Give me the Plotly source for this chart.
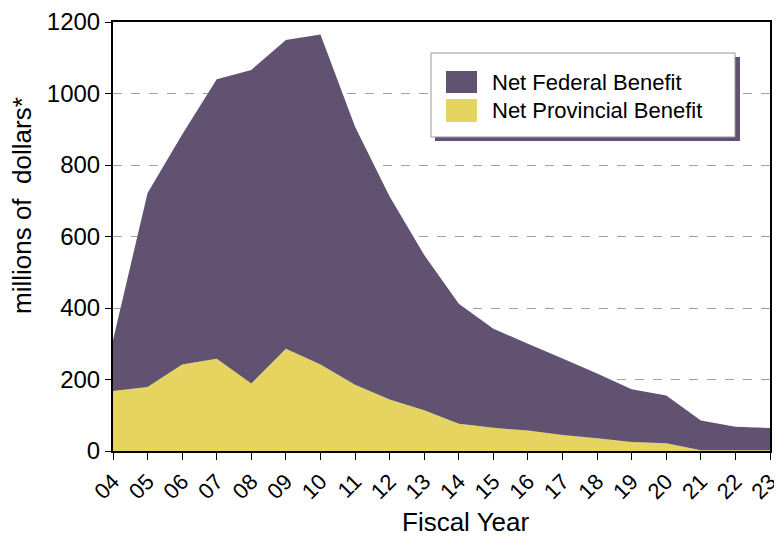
import plotly.graph_objects as go

years = ["04", "05", "06", "07", "08", "09", "10", "11", "12", "13",
         "14", "15", "16", "17", "18", "19", "20", "21", "22", "23"]
provincial = [168, 179, 242, 258, 189, 286, 242, 185, 144, 114,
              76, 65, 57, 45, 36, 25, 22, 2, 2, 2]
federal = [142, 543, 643, 782, 877, 864, 923, 722, 568, 434,
           336, 277, 243, 214, 181, 148, 133, 83, 66, 62]
y_ticks = [0, 200, 400, 600, 800, 1000, 1200]
legend_names = ["Net Federal Benefit", "Net Provincial Benefit"]
x_title = "Fiscal Year"
y_title = "millions of  dollars*"

PURPLE = "#615272"
YELLOW = "#E6D460"
FONT = "Liberation Sans, Arial, sans-serif"

# the page body has an 8px margin, so the figure is 8px smaller and offset
OFF = 8
W, H = 782 - OFF, 536 - OFF
L, R, T = 113 - OFF, 12, 22 - OFF
PW, PH = 657, 429
B = H - T - PH


def px(x):  # screen pixel -> paper x
    return (x - OFF - L) / PW


def py(y):  # screen pixel -> paper y
    return (T + PH - (y - OFF)) / PH


fig = go.Figure()
fig.add_trace(go.Scatter(x=years, y=provincial, name=legend_names[1],
                         stackgroup="one", mode="none", fillcolor=YELLOW))
fig.add_trace(go.Scatter(x=years, y=federal, name=legend_names[0],
                         stackgroup="one", mode="none", fillcolor=PURPLE))

# legend box with shadow
fig.add_shape(type="rect", xref="paper", yref="paper",
              x0=px(435), x1=px(740), y0=py(141), y1=py(57),
              fillcolor=PURPLE, line=dict(width=0), layer="above")
fig.add_shape(type="rect", xref="paper", yref="paper",
              x0=px(431), x1=px(735), y0=py(137), y1=py(53),
              fillcolor="white", line=dict(color="#9a93a6", width=1), layer="above")
for (y0, y1, col, name) in [(71, 93, PURPLE, legend_names[0]),
                            (99, 122, YELLOW, legend_names[1])]:
    fig.add_shape(type="rect", xref="paper", yref="paper",
                  x0=px(446), x1=px(477), y0=py(y1), y1=py(y0),
                  fillcolor=col, line=dict(width=0), layer="above")
    fig.add_annotation(xref="paper", yref="paper", x=px(490), y=py((y0 + y1) / 2),
                       text=name, showarrow=False, xanchor="left", yanchor="middle",
                       font=dict(size=22, family=FONT, color="black"))

# axis titles
fig.add_annotation(xref="paper", yref="paper", x=px(466), y=py(522),
                   text=x_title, showarrow=False, xanchor="center", yanchor="middle",
                   font=dict(size=26, family=FONT, color="black"))
fig.add_annotation(xref="paper", yref="paper", x=px(22), y=py(206),
                   text=y_title, showarrow=False, textangle=-90,
                   xanchor="center", yanchor="middle",
                   font=dict(size=26, family=FONT, color="black"))

fig.update_layout(
    width=W, height=H,
    margin=dict(l=L, r=R, t=T, b=B),
    paper_bgcolor="white", plot_bgcolor="white",
    font=dict(family=FONT, color="black"),
    showlegend=False,
    xaxis=dict(type="category", range=[0, 19], showgrid=False, automargin=False,
               showline=True, linecolor="black", linewidth=2, mirror=True,
               ticks="outside", ticklen=7, tickcolor="black",
               tickangle=-45, tickfont=dict(size=22)),
    yaxis=dict(range=[0, 1200], tickvals=y_ticks, showgrid=True, automargin=False,
               gridcolor="#a0a0a0", griddash="dash", gridwidth=1,
               showline=True, linecolor="black", linewidth=2, mirror=True,
               ticks="outside", ticklen=6, tickcolor="black",
               tickfont=dict(size=24), zeroline=False, ticksuffix=" ",
               ticklabeloverflow="allow", layer="above traces"),
)

fig.write_html("out.html")
